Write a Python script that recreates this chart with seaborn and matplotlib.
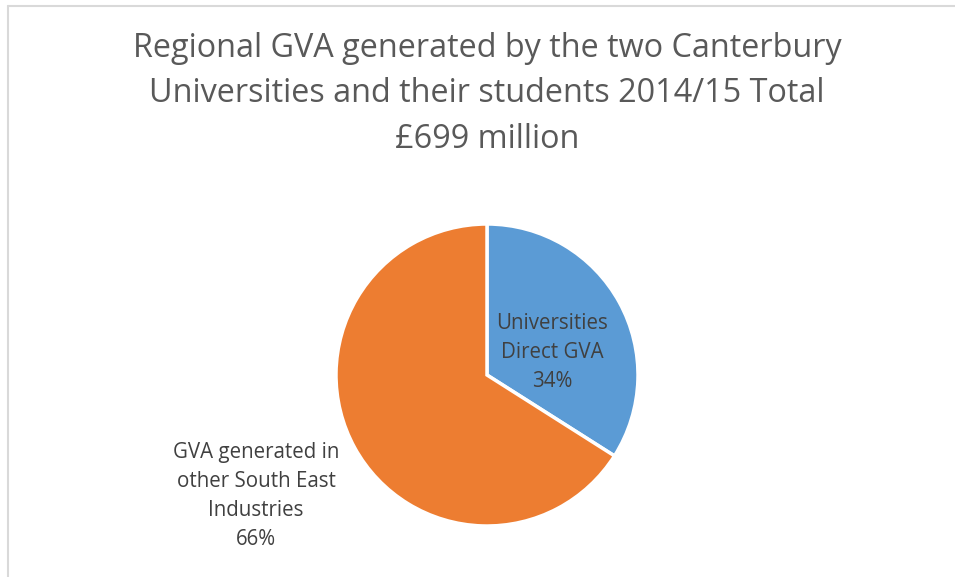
import numpy as np
import matplotlib
matplotlib.use("Agg")
import matplotlib.pyplot as plt
from matplotlib.lines import Line2D
import seaborn as sns

# Data
categories = ["Universities\nDirect GVA", "GVA generated in\nother South East\nIndustries"]
shares = [34, 66]
colors = ["#5B9BD5", "#ED7D31"]
title = "Regional GVA generated by the two Canterbury\nUniversities and their students 2014/15 Total\n£699 million"

sns.set_theme(style="white")
plt.rcParams['font.family'] = ['Open Sans', 'DejaVu Sans']

fig = plt.figure(figsize=(9.55, 5.77), dpi=100)
fig.patch.set_facecolor("white")

# pie axes: centre (487, 375) px, radius 151 px
W, H = 955, 577
cx, cy, r = 487, 375, 151
ax = fig.add_axes([(cx - r) / W, (H - cy - r) / H, 2 * r / W, 2 * r / H])
wedges, _ = ax.pie(shares, colors=colors, startangle=90, counterclock=False,
                   radius=1, wedgeprops=dict(edgecolor="white", linewidth=2.5))
ax.set_xlim(-1, 1)
ax.set_ylim(-1, 1)
ax.axis("off")

label_pos = [(0.43, 0.15), (-1.53, -0.80)]
for lab, val, (x, y) in zip(categories, shares, label_pos):
    ax.text(x, y, f"{lab}\n{val}%", ha="center", va="center", fontsize=14.8,
            color="#404040", linespacing=1.5, clip_on=False)

fig.text(cx / W, 1 - 94 / H, title, ha="center", va="center", fontsize=23.3,
         color="#595959", linespacing=1.5)

# chart border (left and top)
fig.add_artist(Line2D([7.5 / W, 7.5 / W], [0, 1 - 6 / H], transform=fig.transFigure,
                      color="#D9D9D9", linewidth=1.5))
fig.add_artist(Line2D([7.5 / W, 1], [1 - 6 / H, 1 - 6 / H], transform=fig.transFigure,
                      color="#D9D9D9", linewidth=1.5))

fig.savefig("out.png", dpi=100)
